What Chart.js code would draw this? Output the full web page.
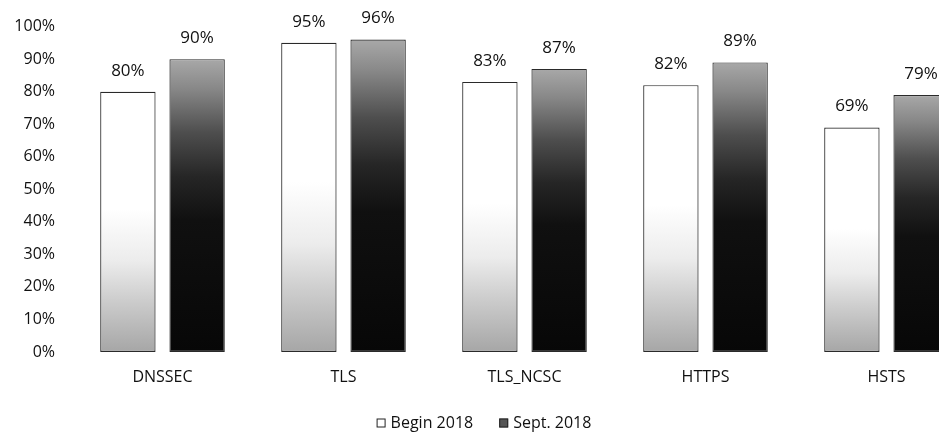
<!DOCTYPE html>
<html>
<head>
<meta charset="utf-8">
<script src="https://cdn.jsdelivr.net/npm/chart.js@4.4.1/dist/chart.umd.min.js"></script>
<style>
  html, body { margin: 0; padding: 0; background: #fff; overflow: hidden; }
  #wrap { width: 977px; height: 434px; position: relative; }
</style>
</head>
<body>
<div id="wrap"><canvas id="c" width="977" height="434"></canvas></div>
<script>
const categories = ["DNSSEC", "TLS", "TLS_NCSC", "HTTPS", "HSTS"];
const seriesNames = ["Begin 2018", "Sept. 2018"];
const begin2018 = [80, 95, 83, 82, 69];
const sept2018 = [90, 96, 87, 89, 79];
const yTicks = [0, 10, 20, 30, 40, 50, 60, 70, 80, 90, 100];

const FONT = "'Open Sans'";
const TEXT = "#111111";

function barGradient(ctx, kind) {
  const chart = ctx.chart;
  if (!chart.chartArea || ctx.raw === undefined) return kind === 0 ? "#fff" : "#111";
  const ys = chart.scales.y;
  const top = ys.getPixelForValue(ctx.raw);
  const bot = ys.getPixelForValue(0);
  const g = chart.ctx.createLinearGradient(0, top, 0, bot);
  if (kind === 0) {
    g.addColorStop(0, "#ffffff");
    g.addColorStop(0.45, "#ffffff");
    g.addColorStop(0.65, "#ececec");
    g.addColorStop(0.8, "#cdcdcd");
    g.addColorStop(1, "#a6a6a6");
  } else {
    g.addColorStop(0, "#a8a8a8");
    g.addColorStop(0.1, "#888888");
    g.addColorStop(0.25, "#4e4e4e");
    g.addColorStop(0.4, "#262626");
    g.addColorStop(0.55, "#101010");
    g.addColorStop(1, "#070707");
  }
  return g;
}

const valueLabels = {
  id: "valueLabels",
  afterDatasetsDraw(chart) {
    const c = chart.ctx;
    c.save();
    c.font = "17px " + FONT;
    c.fillStyle = TEXT;
    c.textAlign = "center";
    c.textBaseline = "middle";
    chart.data.datasets.forEach((ds, i) => {
      const meta = chart.getDatasetMeta(i);
      meta.data.forEach((el, j) => {
        c.fillText(ds.data[j] + "%", el.x, el.y - 21);
      });
    });
    c.restore();
  }
};

const customLegend = {
  id: "customLegend",
  afterDraw(chart) {
    const c = chart.ctx;
    c.save();
    c.font = "16px " + FONT;
    c.textBaseline = "middle";
    c.textAlign = "left";
    const box = 9, gap = 5, spacing = 26;
    const widths = chart.data.datasets.map(ds => box + gap + c.measureText(ds.label).width);
    const total = widths.reduce((a, b) => a + b, 0) + spacing * (widths.length - 1);
    let x = 484 - total / 2;
    const y = 423;
    chart.data.datasets.forEach((ds, i) => {
      c.fillStyle = i === 0 ? "#ffffff" : "#555555";
      c.fillRect(x, y - box / 2, box, box);
      c.strokeStyle = "#222";
      c.lineWidth = 1;
      c.strokeRect(x + 0.5, y - box / 2 + 0.5, box - 1, box - 1);
      c.fillStyle = TEXT;
      c.fillText(ds.label, x + box + gap, y);
      x += widths[i] + spacing;
    });
    c.restore();
  }
};

new Chart(document.getElementById("c"), {
  type: "bar",
  data: {
    labels: categories,
    datasets: [
      {
        label: seriesNames[0],
        data: begin2018,
        backgroundColor: ctx => barGradient(ctx, 0),
        borderColor: "#2a2a2a",
        borderWidth: 1.2,
        borderSkipped: false,
        barPercentage: 0.8,
        categoryPercentage: 0.765
      },
      {
        label: seriesNames[1],
        data: sept2018,
        backgroundColor: ctx => barGradient(ctx, 1),
        borderColor: "#2a2a2a",
        borderWidth: 1.2,
        borderSkipped: false,
        barPercentage: 0.8,
        categoryPercentage: 0.765
      }
    ]
  },
  options: {
    responsive: false,
    animation: false,
    events: [],
    layout: { padding: { top: 24, left: 0, right: 0, bottom: 45 } },
    plugins: {
      legend: { display: false },
      tooltip: { enabled: false },
      title: { display: false }
    },
    scales: {
      x: {
        grid: { display: false, drawTicks: false },
        border: { display: false },
        ticks: { color: TEXT, font: { family: FONT, size: 16 }, padding: 16, maxRotation: 0 },
        afterFit(s) { s.height = 37; }
      },
      y: {
        min: 0,
        max: 100,
        afterBuildTicks(s) { s.ticks = yTicks.map(v => ({ value: v })); },
        grid: { display: false, drawTicks: false },
        border: { display: false },
        ticks: { color: TEXT, font: { family: FONT, size: 16 }, padding: 17, callback: v => v + "%" },
        afterFit(s) { s.width = 72; }
      }
    }
  },
  plugins: [valueLabels, customLegend]
});
</script>
</body>
</html>
